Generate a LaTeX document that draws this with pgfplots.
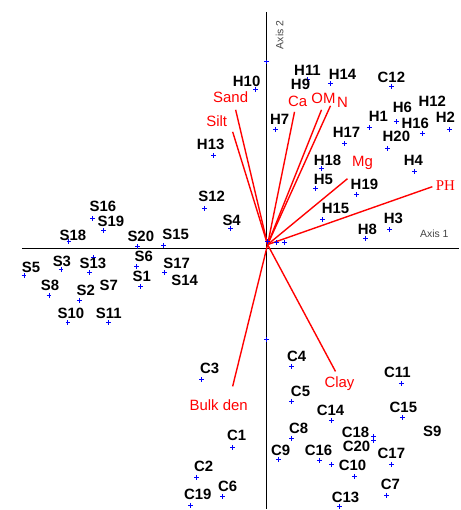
\documentclass[border=0pt]{standalone}
\usepackage{pgfplots}
\pgfplotsset{compat=1.18}
\usepackage{pgfplotstable}
\usepackage{fontspec}
\setmainfont{Liberation Sans}
\newfontfamily\phfont{Liberation Serif}
\definecolor{ptblue}{HTML}{0000FF}
\definecolor{vred}{HTML}{FF0000}
\definecolor{axgray}{HTML}{444444}

% site labels (label centre)
\pgfplotstableread{
name x y
H11 41 179
H14 76 175
C12 125 172
H10 -20 168
H9 34 164
H12 166 148
H2 179 132
H6 136 141
H1 112 132
H16 149 125
H7 13 129
H17 80 116
H20 130 112
H18 61 88
H4 147 88
H5 57 69
H19 98 64
H15 69 40
H3 127 30
H8 101 19
H13 -56 104
S12 -55 52
S4 -35 28
S15 -91 14
S17 -90 -15
S14 -82 -32
S16 -164 42
S19 -156 27
S18 -194 13
S20 -126 12
S6 -123 -8
S5 -236 -19
S3 -205 -13
S13 -174 -15
S1 -125 -28
S8 -217 -37
S2 -181 -42
S7 -158 -37
S10 -196 -65
S11 -158 -65
C3 -57 -120
C4 30 -108
C5 34 -143
C1 -30 -187
C8 32 -180
C9 14 -202
C2 -63 -218
C6 -39 -238
C19 -69 -246
C14 64 -162
C16 52 -202
C18 89 -184
C20 90 -198
C10 86 -217
C17 125 -205
C11 131 -124
C15 137 -159
C7 124 -236
C13 79 -249
S9 166 -183
}\sitelabels

% site scores (markers)
\pgfplotstableread{
x y
41 169
64 165
125 162
-11 159
183 119
130 127
103 121
156 115
9 119
78 105
121 100
55 80
148 77
49 60
90 54
56 29
123 19
99 10
-53 93
-62 40
-36 20
-103 3
-102 -24
-174 30
-163 18
-198 7
-129 2
-130 -18
-243 -27
-206 -21
-177 -24
-173 -9
-126 -38
-218 -47
-187 -52
-199 -74
-158 -74
-65 -131
25 -118
25 -153
-34 -199
25 -190
12 -211
-70 -229
-44 -248
-76 -257
65 -172
53 -212
65 -216
107 -188
107 -192
88 -228
125 -216
135 -135
136 -169
120 -247
73 -258
1 7
10 6
18 6
0 187
0 -91
}\sitescores

% variable labels
\pgfplotstableread{
name x y
Sand -36 152
Silt -50 128
Ca 31 147
OM 57 150
N 76 146
Mg 96 86
{Bulk den} -48 -157
Clay 73 -135
}\varlabels

\begin{document}
\begin{tikzpicture}
\begin{axis}[
  scale only axis,
  width=460bp, height=510bp,
  xmin=-267, xmax=193,
  ymin=-261, ymax=249,
  hide axis,
  clip=false,
]
% keep the full frame as the picture's extent
\path (rel axis cs:0,0) rectangle (rel axis cs:1,1);

% axes through the origin
\addplot[black, line width=1.6pt] coordinates {(-245,0) (193,0)};
\addplot[black, line width=1.6pt] coordinates {(0,237) (0,-261)};

% variable vectors
\addplot[vred, line width=1.4pt] coordinates {(1,4) (-31,139)};
\addplot[vred, line width=1.4pt] coordinates {(1,4) (-34,117)};
\addplot[vred, line width=1.4pt] coordinates {(1,4) (28,137)};
\addplot[vred, line width=1.4pt] coordinates {(1,4) (55,139)};
\addplot[vred, line width=1.4pt] coordinates {(1,4) (64,143)};
\addplot[vred, line width=1.4pt] coordinates {(1,4) (81,70)};
\addplot[vred, line width=1.4pt] coordinates {(1,4) (166,62)};
\addplot[vred, line width=1.4pt] coordinates {(1,4) (-34,-138)};
\addplot[vred, line width=1.4pt] coordinates {(1,4) (69,-123)};

% site markers
\addplot[only marks, mark=+, mark size=2.4pt, ptblue, line width=0.8pt]
  table[x=x, y=y] {\sitescores};

% site labels
\addplot[only marks, mark=none, point meta=explicit symbolic,
  nodes near coords, nodes near coords align={center},
  every node near coord/.append style={anchor=center, black, inner sep=1pt,
    font=\fontsize{15}{15}\selectfont\bfseries}]
  table[x=x, y=y, meta=name] {\sitelabels};

% variable labels
\addplot[only marks, mark=none, point meta=explicit symbolic,
  nodes near coords, nodes near coords align={center},
  every node near coord/.append style={anchor=center, vred, inner sep=1pt,
    font=\fontsize{15}{15}\selectfont}]
  table[x=x, y=y, meta=name] {\varlabels};
\addplot[only marks, mark=none, point meta=explicit symbolic,
  nodes near coords, nodes near coords align={center},
  every node near coord/.append style={anchor=center, vred, inner sep=1pt,
    font=\fontsize{15}{15}\selectfont\phfont}]
  coordinates {(179,63) [PH]};

\node[axgray, font=\fontsize{10.5}{11}\selectfont] at (axis cs:168,15) {Axis 1};
\node[axgray, rotate=90, font=\fontsize{10.5}{11}\selectfont] at (axis cs:13,214) {Axis 2};
\end{axis}
\end{tikzpicture}
\end{document}
